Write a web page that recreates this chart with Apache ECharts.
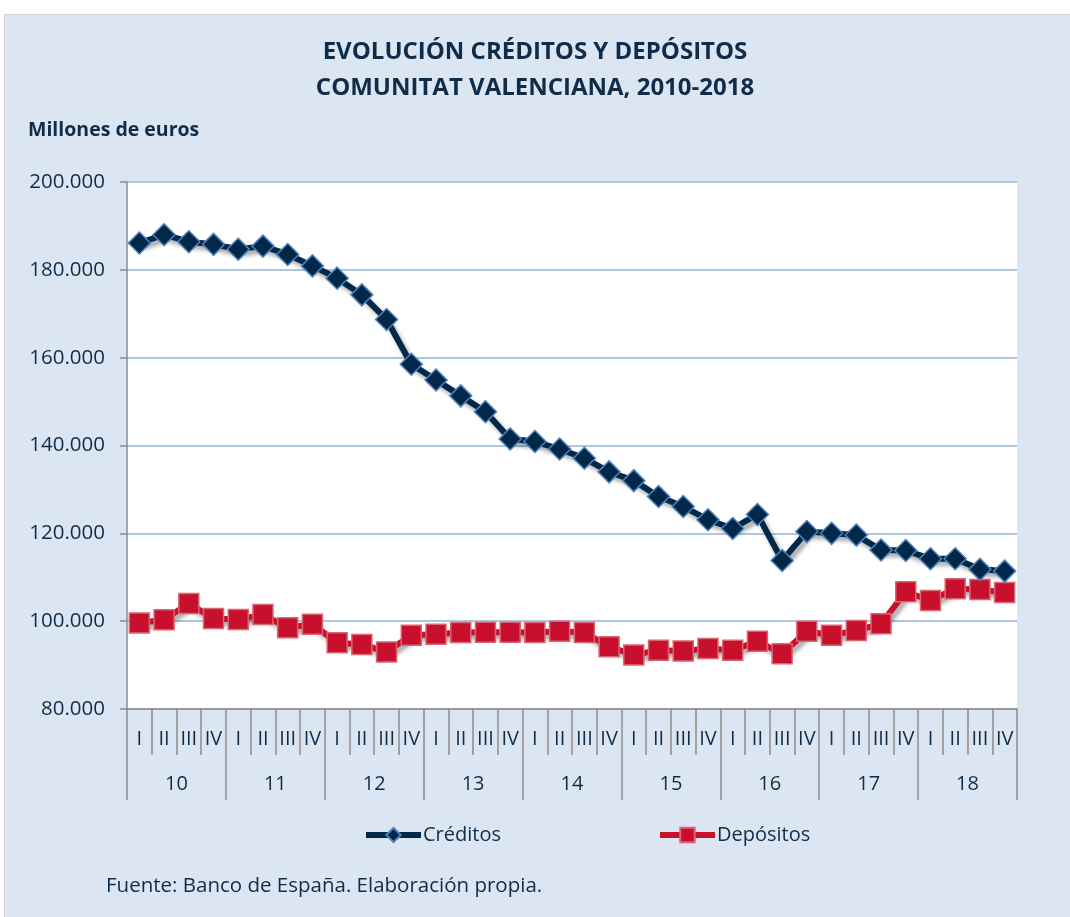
<!DOCTYPE html>
<html>
<head>
<meta charset="utf-8">
<script src="https://cdn.jsdelivr.net/npm/echarts@6/dist/echarts.min.js"></script>
<style>
  html, body { margin: 0; padding: 0; background: #fff; }
  #main { width: 1070px; height: 917px; }
</style>
</head>
<body>
<div id="main"></div>
<script>
(function(){

    // datos (millones de euros)
    var quarters = [];
    var years = ['10', '11', '12', '13', '14', '15', '16', '17', '18'];
    var quarterNames = ['I', 'II', 'III', 'IV'];
    for (var y = 0; y < years.length; y++) {
        for (var q = 0; q < 4; q++) {
            quarters.push(quarterNames[q]);
        }
    }

    var creditos = [
        186100, 188000, 186400, 185800, 184700, 185400, 183500, 180900,
        178100, 174300, 168700, 158500, 154900, 151300, 147700, 141500,
        140900, 139200, 137100, 134000, 132000, 128400, 126100, 123100,
        121100, 124300, 113800, 120400, 120000, 119600, 116200, 116100,
        114200, 114200, 111800, 111400
    ];

    var depositos = [
        99600, 100300, 104000, 100600, 100400, 101500, 98500, 99300,
        95100, 94700, 93000, 96800, 97000, 97400, 97500, 97500,
        97400, 97700, 97400, 94200, 92300, 93400, 93200, 93800,
        93400, 95400, 92600, 97700, 96800, 97900, 99400, 106700,
        104700, 107400, 107200, 106500
    ];

    var navy = '#0f2d4a';
    var font = '"Open Sans", sans-serif';

    var myChart = echarts.init(document.getElementById('main'));

    var shadow = {
        shadowColor: 'rgba(0,0,0,0.35)',
        shadowBlur: 4,
        shadowOffsetX: 3,
        shadowOffsetY: 4
    };

    var option = {
        backgroundColor: '#fff',
        animation: false,
        textStyle: { fontFamily: font },
        graphic: [{
            type: 'rect',
            z: -10,
            shape: { x: 4.5, y: 14.5, width: 1070, height: 910 },
            style: { fill: '#dce6f2', stroke: '#d4d4d4', lineWidth: 1 }
        }, {
            type: 'text',
            left: 'center',
            top: 34,
            style: {
                text: 'EVOLUCIÓN CRÉDITOS Y DEPÓSITOS\nCOMUNITAT VALENCIANA, 2010-2018',
                fill: navy,
                font: 'bold 24px "Open Sans", sans-serif',
                textAlign: 'center',
                lineHeight: 36
            }
        }, {
            type: 'text',
            left: 28,
            top: 120,
            style: {
                text: 'Millones de euros',
                fill: navy,
                font: 'bold 19.5px "Open Sans", sans-serif'
            }
        }, {
            type: 'text',
            left: 106,
            top: 876,
            style: {
                text: 'Fuente: Banco de España. Elaboración propia.',
                fill: navy,
                font: '20.5px "Open Sans", sans-serif'
            }
        }],
        legend: {
            top: 820,
            left: 358,
            itemGap: 156,
            itemWidth: 55,
            itemHeight: 18,
            lineStyle: { width: 6 },
            textStyle: { color: navy, fontSize: 20, fontFamily: font, padding: [0, 0, 0, -3] },
            data: ['Créditos', 'Depósitos']
        },
        grid: {
            left: 127,
            right: 53,
            top: 182,
            bottom: 208,
            show: true,
            backgroundColor: '#fff',
            borderWidth: 0
        },
        xAxis: [{
            type: 'category',
            data: quarters,
            position: 'bottom',
            boundaryGap: true,
            axisLine: { show: true, lineStyle: { color: '#8c8c8c', width: 1.5 } },
            axisTick: { show: true, interval: 0, length: 46, lineStyle: { color: '#8c8c8c', width: 1.5 } },
            axisLabel: { interval: 0, color: navy, fontSize: 20, margin: 20, fontFamily: font },
            splitLine: { show: false }
        }, {
            type: 'category',
            data: years,
            position: 'bottom',
            boundaryGap: true,
            axisLine: { show: false },
            axisTick: { show: true, interval: 0, length: 91, lineStyle: { color: '#8c8c8c', width: 1.5 } },
            axisLabel: { interval: 0, color: navy, fontSize: 20, margin: 65, fontFamily: font },
            splitLine: { show: false }
        }],
        yAxis: {
            type: 'value',
            min: 80000,
            max: 200000,
            interval: 20000,
            axisLine: { show: true, lineStyle: { color: '#8c8c8c', width: 1.5 } },
            axisTick: { show: true, length: 7, lineStyle: { color: '#8c8c8c', width: 1.5 } },
            axisLabel: {
                color: navy,
                fontSize: 20.5,
                margin: 22,
                fontFamily: font,
                formatter: function (v) {
                    return String(v).replace(/\B(?=(\d{3})+(?!\d))/g, '.');
                }
            },
            splitLine: { lineStyle: { color: '#95b3d7', width: 1.5 } }
        },
        series: [{
            name: 'Créditos',
            type: 'line',
            data: creditos,
            symbol: 'diamond',
            symbolSize: 22,
            z: 3,
            lineStyle: echarts.util.extend({ color: '#012849', width: 6 }, shadow),
            itemStyle: { color: '#012849', borderColor: '#4f81bd', borderWidth: 1.5 }
        }, {
            name: 'Depósitos',
            type: 'line',
            data: depositos,
            symbol: 'rect',
            symbolSize: 20,
            z: 2,
            lineStyle: echarts.util.extend({ color: '#c8102e', width: 6 }, shadow),
            itemStyle: { color: '#c8102e', borderColor: '#d9666f', borderWidth: 1.5 }
        }]
    };

    myChart.setOption(option);

})();
</script>
</body>
</html>
